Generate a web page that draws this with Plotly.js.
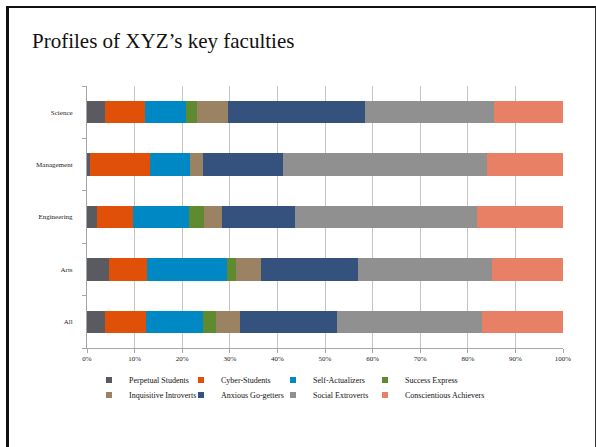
<!DOCTYPE html>
<html>
<head>
<meta charset="utf-8">
<script src="https://cdn.plot.ly/plotly-3.0.1.min.js"></script>
<style>
html,body{margin:0;padding:0;background:#fff;}
#wrap{position:relative;width:596px;height:447px;overflow:hidden;}
#chart{position:absolute;left:0;top:0;width:596px;height:447px;}
#frame{position:absolute;left:6px;top:6px;width:586px;height:460px;border-left:3px solid #111;border-top:2px solid #111;border-right:1px solid #333;pointer-events:none;}
</style>
</head>
<body>
<div id="wrap"><div id="chart"></div><div id="frame"></div></div>
<script>
const categories = ['All', 'Arts', 'Engineering', 'Management', 'Science'];
const seriesNames = ['Perpetual Students', 'Cyber-Students', 'Self-Actualizers', 'Success Express',
  'Inquisitive Introverts', 'Anxious Go-getters', 'Social Extroverts', 'Conscientious Achievers'];
// values in % for [All, Arts, Engineering, Management, Science]
const perpetualStudents      = [3.8, 4.6, 2.2, 0.7, 3.8];
const cyberStudents          = [8.6, 8.1, 7.5, 12.5, 8.4];
const selfActualizers        = [12.0, 16.8, 11.7, 8.4, 8.6];
const successExpress         = [2.6, 1.8, 3.2, 0.0, 2.4];
const inquisitiveIntroverts  = [5.2, 5.2, 3.8, 2.8, 6.5];
const anxiousGoGetters       = [20.4, 20.5, 15.3, 16.8, 28.8];
const socialExtroverts       = [30.3, 28.0, 38.2, 42.8, 26.9];
const conscientiousAchievers = [17.1, 15.0, 18.1, 16.0, 14.6];
const xTickValues = [0, 10, 20, 30, 40, 50, 60, 70, 80, 90, 100];
const xTickLabels = ['0%', '10%', '20%', '30%', '40%', '50%', '60%', '70%', '80%', '90%', '100%'];

const seriesValues = [perpetualStudents, cyberStudents, selfActualizers, successExpress,
  inquisitiveIntroverts, anxiousGoGetters, socialExtroverts, conscientiousAchievers];
const colors = ['#5a5b60', '#e05008', '#0088c5', '#5f8a30', '#9a8262', '#34527d', '#909090', '#e88066'];

const legendIds = ['legend', 'legend2', 'legend3', 'legend4', 'legend5', 'legend6', 'legend7', 'legend8'];

// bars (drawn from the data arrays)
const barTraces = seriesNames.map((name, i) => ({
  type: 'bar',
  orientation: 'h',
  name: name,
  y: categories,
  x: seriesValues[i],
  marker: {color: colors[i], line: {width: 0}},
  legendgroup: name,
  showlegend: false,
  hoverinfo: 'name+x'
}));
// legend keys (small squares, like the original)
const keyTraces = seriesNames.map((name, i) => ({
  type: 'scatter',
  mode: 'markers',
  name: name,
  x: [null], y: [null],
  marker: {color: colors[i], symbol: 'square', size: 6},
  legendgroup: name,
  legend: legendIds[i],
  showlegend: true,
  hoverinfo: 'skip'
}));

const serif = 'Liberation Serif, Times New Roman, serif';
const colTextX = [129, 221, 313, 405];
const rowY = [380, 395];

const layout = {
  width: 596, height: 447,
  paper_bgcolor: 'rgba(0,0,0,0)',
  plot_bgcolor: 'rgba(0,0,0,0)',
  margin: {l: 87, r: 33, t: 86, b: 99},
  barmode: 'stack',
  bargap: 0.57,
  title: {
    text: 'Profiles of XYZ\u2019s key faculties',
    font: {family: serif, size: 21, color: '#111'},
    xref: 'container', yref: 'container',
    x: 32 / 596, xanchor: 'left',
    y: 1 - 41 / 447, yanchor: 'middle'
  },
  xaxis: {
    range: [0, 100],
    tickvals: xTickValues,
    ticktext: xTickLabels,
    showgrid: true, gridcolor: '#c4c4c4', gridwidth: 1,
    showline: true, linecolor: '#a6a6a6', linewidth: 1,
    ticks: 'outside', ticklen: 4, tickcolor: '#a6a6a6',
    zeroline: false,
    tickfont: {family: serif, size: 7, color: '#222'},
    ticklabelstandoff: 0,
    fixedrange: true
  },
  yaxis: {
    type: 'category',
    categoryorder: 'array', categoryarray: categories,
    range: [-0.5, 4.5],
    showgrid: false,
    showline: true, linecolor: '#a6a6a6', linewidth: 1,
    ticks: 'outside', ticklen: 4, tickcolor: '#a6a6a6',
    tickson: 'boundaries',
    tickfont: {family: serif, size: 7, color: '#222'},
    ticklabelstandoff: 12,
    fixedrange: true
  },
  showlegend: true
};

legendIds.forEach((id, i) => {
  layout[id] = {
    orientation: 'h',
    xref: 'container', yref: 'container',
    xanchor: 'left', yanchor: 'middle',
    x: (colTextX[i % 4] - 40) / 596,
    y: 1 - rowY[Math.floor(i / 4)] / 447,
    font: {family: serif, size: 8, color: '#111'},
    itemsizing: 'trace',
    bgcolor: 'rgba(0,0,0,0)'
  };
});

Plotly.newPlot('chart', barTraces.concat(keyTraces), layout, {displayModeBar: false, staticPlot: true});
</script>
</body>
</html>
